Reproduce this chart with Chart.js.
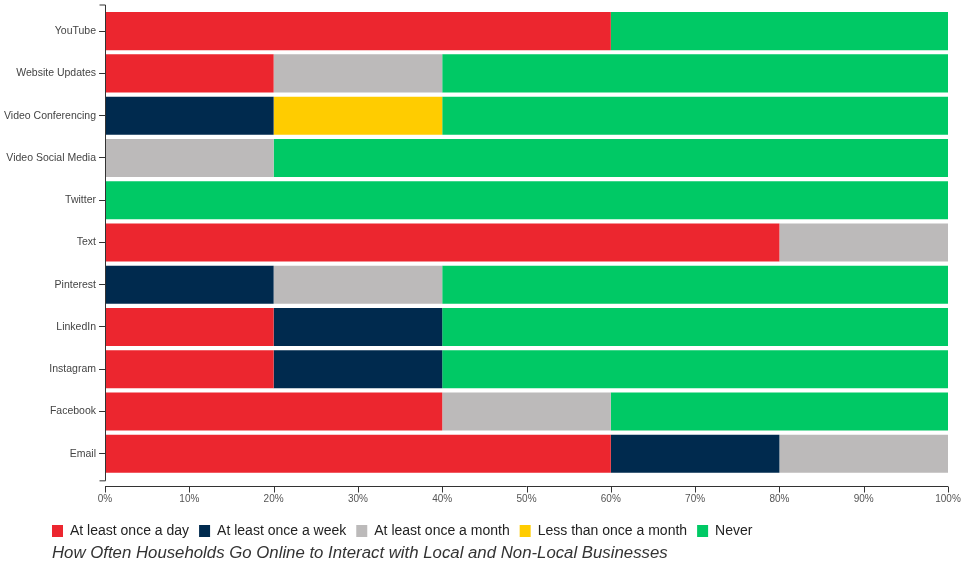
<!DOCTYPE html>
<html lang="en">
  <head>
    <meta charset="UTF-8" />
    <title>online interaction</title>
    <script src="https://cdn.jsdelivr.net/npm/chart.js@4.4.1/dist/chart.umd.min.js"></script>
    <style>
      body { margin: 0; background: #fff; }
      #wrap { width: 961px; height: 562px; }
    </style>
  </head>
  <body>
    <div id="wrap"><canvas id="myChart"></canvas></div>
    <script>
      // categories top to bottom
      const platforms = ['YouTube', 'Website Updates', 'Video Conferencing', 'Video Social Media', 'Twitter',
        'Text', 'Pinterest', 'LinkedIn', 'Instagram', 'Facebook', 'Email'];

      // share of households (%) per frequency
      const daily   = [60, 20, 0, 0, 0, 80, 0, 20, 20, 40, 60];
      const weekly  = [0, 0, 20, 0, 0, 0, 20, 20, 20, 0, 20];
      const monthly = [0, 20, 0, 20, 0, 20, 20, 0, 0, 20, 20];
      const rarely  = [0, 0, 20, 0, 0, 0, 0, 0, 0, 0, 0];
      const never   = [40, 60, 60, 80, 100, 0, 60, 60, 60, 40, 0];

      const seriesNames = ['At least once a day', 'At least once a week', 'At least once a month', 'Less than once a month', 'Never'];
      const xTicks = [0, 10, 20, 30, 40, 50, 60, 70, 80, 90, 100];
      const chartTitle = 'How Often Households Go Online to Interact with Local and Non-Local Businesses';

      const colors = ['#ec262f', '#002a4e', '#bcbaba', '#ffcc00', '#00c965'];
      const allSeries = [daily, weekly, monthly, rarely, never];

      // d3-ish axis lines with end hooks; legend and title nudged into place
      const axisPlugin = {
        id: 'axisPlugin',
        afterLayout(chart) {
          const lg = chart.legend, tb = chart.titleBlock;
          lg.left += 41; lg.right += 41;
          const lh = lg.bottom - lg.top;
          lg.top = chart.height - 48; lg.bottom = lg.top + lh;
          const th = tb.bottom - tb.top;
          tb.left += 51; tb.right += 51;
          tb.top = chart.height - th + 1; tb.bottom = tb.top + th;
        },
        afterDraw(chart) {
          const ctx = chart.ctx;
          const a = chart.chartArea;
          const xs = chart.scales.x;
          ctx.save();
          ctx.strokeStyle = '#333';
          ctx.lineWidth = 1;
          const lx = Math.round(a.left) + 0.5;
          ctx.beginPath();
          ctx.moveTo(lx - 6, a.top - 5);
          ctx.lineTo(lx, a.top - 5);
          ctx.lineTo(lx, a.bottom + 6);
          ctx.lineTo(lx - 6, a.bottom + 6);
          ctx.stroke();
          const y0 = Math.round(a.bottom + 11) + 0.5;
          ctx.beginPath();
          ctx.moveTo(xs.getPixelForValue(0), y0);
          ctx.lineTo(xs.getPixelForValue(100), y0);
          xTicks.forEach(function (t) {
            const px = Math.round(xs.getPixelForValue(t)) + 0.5;
            ctx.moveTo(px, y0);
            ctx.lineTo(px, y0 + 6);
          });
          ctx.stroke();
          ctx.restore();
        }
      };

      const ctx = document.getElementById('myChart').getContext('2d');
      const myChart = new Chart(ctx, {
        type: 'bar',
        data: {
          labels: platforms,
          datasets: seriesNames.map(function (name, i) {
            return {
              label: name,
              data: allSeries[i],
              backgroundColor: colors[i],
              borderWidth: 0,
              barPercentage: 0.9,
              categoryPercentage: 1.0
            };
          })
        },
        options: {
          indexAxis: 'y',
          responsive: true,
          maintainAspectRatio: false,
          animation: false,
          layout: { padding: { top: 10, right: 0, left: 1, bottom: 0 } },
          scales: {
            x: {
              stacked: true,
              min: 0,
              max: 100,
              afterBuildTicks: function (s) { s.ticks = xTicks.map(function (v) { return { value: v }; }); },
              afterFit: function (s) { s.paddingRight = 13; s.height = 33; },
              grid: { display: false },
              border: { display: false },
              ticks: {
                padding: 10,
                color: '#555',
                font: { family: 'Liberation Sans', size: 10 },
                callback: function (v) { return v + '%'; }
              }
            },
            y: {
              stacked: true,
              grid: { drawOnChartArea: false, offset: false, tickLength: 6, color: '#333' },
              border: { display: false },
              ticks: {
                padding: 3,
                color: '#444',
                font: { family: 'Liberation Sans', size: 10.5 }
              }
            }
          },
          plugins: {
            legend: {
              position: 'bottom',
              align: 'start',
              labels: {
                boxWidth: 11,
                boxHeight: 12,
                padding: 10,
                color: '#222',
                font: { family: 'Liberation Sans', size: 14 }
              }
            },
            title: {
              display: true,
              position: 'bottom',
              align: 'start',
              text: chartTitle,
              color: '#333',
              padding: { top: 0, bottom: 0 },
              font: { family: 'Liberation Sans', size: 16.8, style: 'italic', weight: 'normal' }
            },
            tooltip: { enabled: false }
          }
        },
        plugins: [axisPlugin]
      });
    </script>
  </body>
</html>
